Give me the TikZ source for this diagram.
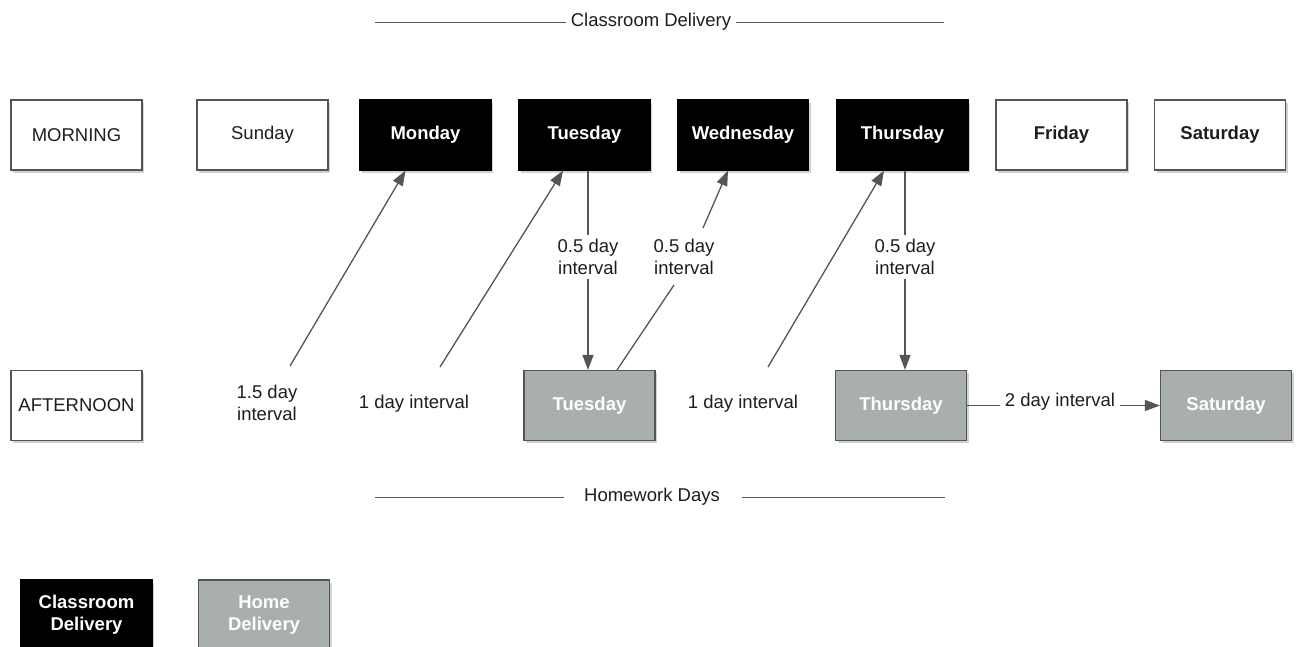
\documentclass[tikz,border=0pt]{standalone}
\usepackage{fontspec}
\setmainfont{Liberation Sans}
\usetikzlibrary{arrows.meta,shadows,positioning}
\definecolor{edge}{HTML}{555555}
\definecolor{homegray}{HTML}{A9B0AC}
\definecolor{ink}{HTML}{1E1E1E}
\tikzset{
  day/.style={draw=edge, line width=1.2pt, minimum width=131pt, minimum height=70pt,
    inner sep=0pt, align=center, font=\fontsize{18.5}{22}\selectfont,
    drop shadow={shadow xshift=2pt, shadow yshift=-2.5pt, opacity=0.35}},
  plainbox/.style={day, fill=white, text=ink},
  classbox/.style={day, fill=black, draw=black, text=white, font=\fontsize{18.5}{22}\selectfont\bfseries},
  homebox/.style={day, fill=homegray, draw=edge, text=white, font=\fontsize{18.5}{22}\selectfont\bfseries},
  restbox/.style={day, fill=white, text=ink, font=\fontsize{18.5}{22}\selectfont\bfseries},
  lbl/.style={align=center, text=ink, font=\fontsize{18.5}{22}\selectfont, inner sep=4pt},
  conn/.style={draw=edge, line width=1.3pt},
  arr/.style={conn, -{Triangle[length=15pt,width=11pt]}},
}
\begin{document}
\begin{tikzpicture}[x=1pt, y=-1pt]
\useasboundingbox (0,0) rectangle (1298,646);
\fill[white] (0,0) rectangle (1298,646);

% section headings
\node[lbl, inner sep=5pt] (top) at (651,22) {Classroom Delivery};
\coordinate (topL) at (375,22);
\coordinate (topR) at (944,22);
\draw[conn, line width=1pt] (topL) -- (top.west);
\draw[conn, line width=1pt] (top.east) -- (topR);

\node[lbl, inner sep=0pt] (bot) at (652,497) {Homework Days};
\coordinate (botL) at (375,497);
\coordinate (botR) at (945,497);
\draw[conn, line width=1pt] (botL) -- ([xshift=-20pt]bot.west);
\draw[conn, line width=1pt] ([xshift=22pt]bot.east) -- (botR);

% morning row
\node[plainbox] (morn) at (76.5,135) {MORNING};
\node[plainbox] (sun)  at (262.5,135) {Sunday};
\node[classbox] (mon)  at (425.5,135) {Monday};
\node[classbox] (tue)  at (584.5,135) {Tuesday};
\node[classbox] (wed)  at (743,135) {Wednesday};
\node[classbox] (thu)  at (902.5,135) {Thursday};
\node[restbox]  (fri)  at (1061.5,135) {Friday};
\node[restbox]  (sat)  at (1220,135) {Saturday};

% afternoon row
\node[plainbox] (aft)  at (76.5,405.5) {AFTERNOON};
\node[homebox]  (tueh) at (589.5,405.5) {Tuesday};
\node[homebox]  (thuh) at (901,405.5) {Thursday};
\node[homebox]  (sath) at (1226,405.5) {Saturday};

% interval labels
\node[lbl] (i15)  at (267,403) {1.5 day\\interval};
\node[lbl] (i1a)  at (414,404) {1 day interval};
\node[lbl] (i05a) at (588,257) {0.5 day\\interval};
\node[lbl] (i05b) at (684,257) {0.5 day\\interval};
\node[lbl] (i1b)  at (743,404) {1 day interval};
\node[lbl] (i05c) at (905,257) {0.5 day\\interval};
\node[lbl, inner sep=5pt] (i2) at (1060,402) {2 day interval};

% connectors
\coordinate (s1) at (290,366);
\draw[arr] (s1) -- ([xshift=-20pt]mon.south);
\coordinate (s2) at (440,367);
\draw[arr] (s2) -- ([xshift=-21.5pt]tue.south);

\draw[conn] (i05a.north |- tue.south) -- (i05a.north);
\draw[arr] (i05a.south) -- (i05a.south |- tueh.north);

\coordinate (w1) at (674,285);
\coordinate (w2) at (703,228);
\draw[conn] ([xshift=27.5pt]tueh.north) -- (w1);
\draw[arr] (w2) -- ([xshift=-15pt]wed.south);

\coordinate (s3) at (768,367);
\draw[arr] (s3) -- ([xshift=-18.5pt]thu.south);

\draw[conn] (i05c.north |- thu.south) -- (i05c.north);
\draw[arr] (i05c.south) -- (i05c.south |- thuh.north);

\draw[conn] (thuh.east) -- (i2.west |- thuh.east);
\draw[arr] (i2.east |- sath.west) -- (sath.west);

% legend
\node[classbox] (lgc) at (86.5,615) {Classroom\\Delivery};
\node[homebox]  (lgh) at (264,615) {Home\\Delivery};
\end{tikzpicture}
\end{document}
